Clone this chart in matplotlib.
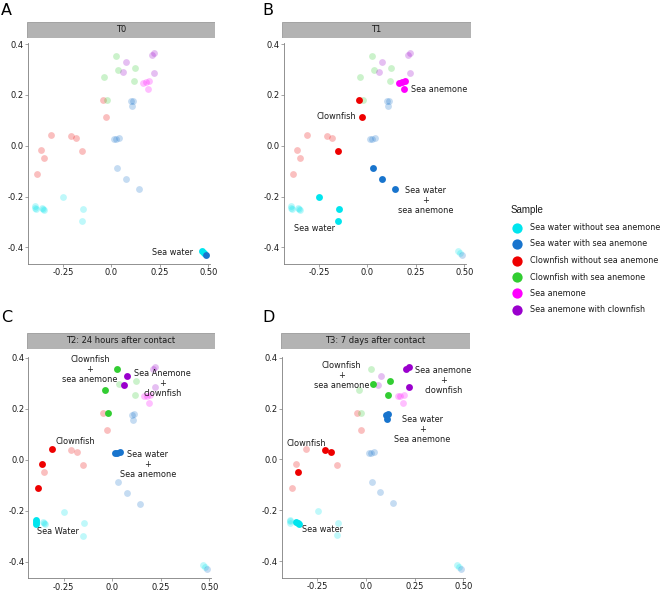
import matplotlib
matplotlib.use('Agg')
import matplotlib.pyplot as plt
from matplotlib.lines import Line2D
from matplotlib.patches import Rectangle

# PCoA coordinates, per sample group, with the time point of each sample
sw_x = [0.467, 0.478, -0.249, -0.146, -0.151, -0.392, -0.392, -0.390, -0.358, -0.350, -0.345]
sw_y = [-0.413, -0.421, -0.203, -0.248, -0.297, -0.236, -0.243, -0.250, -0.244, -0.248, -0.252]
sw_t = ['T0', 'T0', 'T1', 'T1', 'T1', 'T2', 'T2', 'T2', 'T3', 'T3', 'T3']

swa_x = [0.488, 0.031, 0.074, 0.141, 0.015, 0.024, 0.040, 0.107, 0.113, 0.103]
swa_y = [-0.429, -0.087, -0.129, -0.172, 0.026, 0.026, 0.030, 0.157, 0.177, 0.175]
swa_t = ['T0', 'T1', 'T1', 'T1', 'T2', 'T2', 'T2', 'T3', 'T3', 'T3']

cf_x = [-0.045, -0.027, -0.151, -0.311, -0.361, -0.383, -0.210, -0.182, -0.349]
cf_y = [0.181, 0.115, -0.020, 0.041, -0.018, -0.110, 0.038, 0.030, -0.049]
cf_t = ['T1', 'T1', 'T1', 'T2', 'T2', 'T2', 'T3', 'T3', 'T3']

cfa_x = [0.026, -0.038, -0.024, 0.034, 0.122, 0.115]
cfa_y = [0.354, 0.272, 0.181, 0.297, 0.307, 0.253]
cfa_t = ['T2', 'T2', 'T2', 'T3', 'T3', 'T3']

sa_x = [0.165, 0.177, 0.194, 0.191]
sa_y = [0.248, 0.251, 0.253, 0.222]
sa_t = ['T1', 'T1', 'T1', 'T1']

sac_x = [0.076, 0.062, 0.208, 0.220, 0.220]
sac_y = [0.328, 0.291, 0.356, 0.364, 0.285]
sac_t = ['T2', 'T2', 'T3', 'T3', 'T3']

group_labels = ['Sea water without sea anemone', 'Sea water with sea anemone',
                'Clownfish without sea anemone', 'Clownfish with sea anemone',
                'Sea anemone', 'Sea anemone with clownfish']
group_colors = ['#00E5EE', '#1874CD', '#EE0000', '#32CD32', '#FF00FF', '#9A00CD']
groups = [(sw_x, sw_y, sw_t), (swa_x, swa_y, swa_t), (cf_x, cf_y, cf_t),
          (cfa_x, cfa_y, cfa_t), (sa_x, sa_y, sa_t), (sac_x, sac_y, sac_t)]

times = ['T0', 'T1', 'T2', 'T3']
titles = ['T0', 'T1', 'T2: 24 hours after contact', 'T3: 7 days after contact']
letters = ['A', 'B', 'C', 'D']

annotations = {
    'T0': [('Sea water', 0.318, -0.421)],
    'T1': [('Sea anemone', 0.372, 0.222), ('Clownfish', -0.16, 0.115),
           ('Sea water\n+\nsea anemone', 0.301, -0.214), ('Sea water', -0.272, -0.324)],
    'T2': [('Clownfish\n+\nsea anemone', -0.115, 0.354), ('Sea Anemone\n+\nclownfish', 0.258, 0.299),
           ('Clownfish', -0.192, 0.071), ('Sea water\n+\nSea anemone', 0.184, -0.019),
           ('Sea Water', -0.277, -0.282)],
    'T3': [('Clownfish\n+\nsea anemone', -0.125, 0.331), ('Sea anemone\n+\nclownfish', 0.397, 0.311),
           ('Sea water\n+\nSea anemone', 0.288, 0.118), ('Clownfish', -0.306, 0.063),
           ('Sea water', -0.223, -0.276)],
}

W, H = 660, 592


def box(l, t, r, b):
    return [l / W, 1 - b / H, (r - l) / W, (b - t) / H]


# pixel boxes: axes (l, t, r, b), strip (l, t, r, b), letter position
panels = [
    ((27.5, 43, 210, 263.5), (27, 22, 215, 38), (1, 3)),
    ((283.5, 43, 466, 263.5), (281.5, 22, 471, 38), (262, 3)),
    ((28.3, 356.5, 211, 578), (27, 332.5, 215, 349), (1, 310)),
    ((282, 356.5, 465, 577.5), (281, 332.5, 470, 349), (262, 310)),
]

fig = plt.figure(figsize=(6.6, 5.92), dpi=100)

for k, t in enumerate(times):
    axb, stb, lp = panels[k]
    ax = fig.add_axes(box(*axb))
    # faded background of all samples
    for (gx, gy, gt), c in zip(groups, group_colors):
        ax.scatter(gx, gy, s=24, color=c, alpha=0.25, linewidths=0, zorder=2)
    # samples of this time point
    for (gx, gy, gt), c in zip(groups, group_colors):
        px = [x for x, tt in zip(gx, gt) if tt == t]
        py = [y for y, tt in zip(gy, gt) if tt == t]
        if px:
            ax.scatter(px, py, s=24, color=c, linewidths=0, zorder=3)
    for txt, x, y in annotations[t]:
        ax.text(x, y, txt, ha='center', va='center', fontsize=5.9,
                color='#1a1a1a', linespacing=1.15, zorder=4)

    ax.set_xlim(-0.432, 0.509)
    ax.set_ylim(-0.463, 0.404)
    ax.set_xticks([-0.25, 0.0, 0.25, 0.50])
    ax.set_xticklabels(['-0.25', '0.0', '0.25', '0.50'])
    ax.set_yticks([-0.4, -0.2, 0.0, 0.2, 0.4])
    ax.set_yticklabels(['-0.4', '-0.2', '0.0', '0.2', '0.4'])
    ax.tick_params(labelsize=6, length=2, width=0.5, colors='#7f7f7f',
                   labelcolor='#1a1a1a')
    ax.tick_params(axis='y', pad=0.8)
    ax.tick_params(axis='x', pad=1.5)
    for side in ['top', 'right']:
        ax.spines[side].set_visible(False)
    for side in ['left', 'bottom']:
        ax.spines[side].set_color('#7f7f7f')
        ax.spines[side].set_linewidth(0.6)

    sax = fig.add_axes(box(*stb))
    sax.set_xlim(0, 1)
    sax.set_ylim(0, 1)
    sax.add_patch(Rectangle((0, 0), 1, 1, facecolor='#b3b3b3', edgecolor='#9a9a9a', linewidth=0.6))
    sax.text(0.5, 0.5, titles[k], ha='center', va='center', fontsize=6, color='#1a1a1a')
    sax.axis('off')

    fig.text(lp[0] / W, 1 - lp[1] / H, letters[k], ha='left', va='top', fontsize=11.5)

# legend, drawn by hand for exact spacing
fig.text(510.5 / W, 1 - 210 / H, 'Sample', ha='left', va='center',
         family='Liberation Sans', fontsize=7, color='#1a1a1a')
row_y = [227.5, 244, 260.5, 277, 293.5, 310]
for yy, c, lab in zip(row_y, group_colors, group_labels):
    fig.add_artist(Line2D([517.3 / W], [1 - yy / H], transform=fig.transFigure,
                          marker='o', linestyle='none', markersize=7.4,
                          markerfacecolor=c, markeredgewidth=0))
    fig.text(530 / W, 1 - yy / H, lab, ha='left', va='center',
             fontsize=5.8, color='#1a1a1a')

fig.savefig('out.png', dpi=100)
